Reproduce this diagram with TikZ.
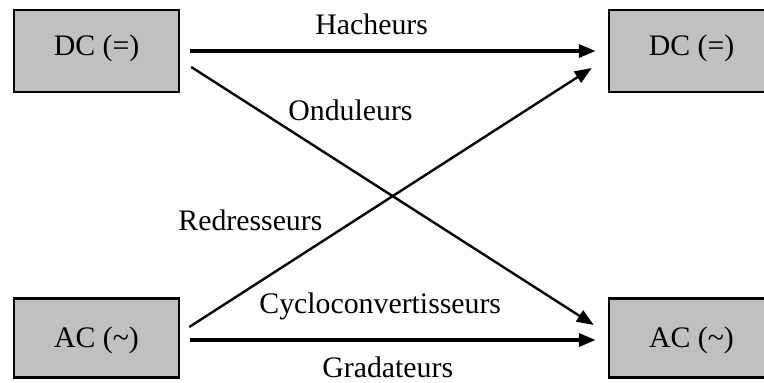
\documentclass[tikz,border=0pt]{standalone}
\usepackage{fontspec}
\setmainfont{Liberation Serif}
\usetikzlibrary{arrows.meta,positioning,calc}
\definecolor{boxgray}{RGB}{192,192,192}

\begin{document}
\begin{tikzpicture}[
  x=0.5pt,y=-0.5pt,
  font=\fontsize{14.9}{18}\selectfont,
  >={Triangle[length=8.5pt,width=6.5pt]},
  box/.style={draw=black,line width=1.25pt,fill=boxgray,inner sep=0pt,
              minimum width=82.5pt,minimum height=41pt,text height=10pt},
  dcbox/.style={box,text depth=6pt},
  acbox/.style={box,text depth=0.5pt,minimum height=39.5pt},
  conv/.style={->,line width=1.8pt,black},
  cross/.style={->,line width=1.2pt,black},
  lbl/.style={inner sep=0pt,anchor=base west},
]

% ---- source and target boxes --------------------------------------------
\useasboundingbox (0,0) rectangle (764,382);
\clip (0,0) rectangle (764,382);
\node[dcbox] (dcL) at (96.5,51)  {DC (=)};
\node[dcbox] (dcR) at (691.5,51) {DC (=)};
\node[acbox] (acL) at (96.5,338) {AC (\textasciitilde)};
\node[acbox] (acR) at (691.5,338) {AC (\textasciitilde)};

% ---- converters ------------------------------------------------------------
\draw[conv]  ($(dcL.east)+(10,0)$)   -- ($(dcR.west)+(-12,0)$);
\draw[cross] ($(dcL.east)+(11,16)$)  -- ($(acR.west)+(-14,-13)$);
\draw[cross] ($(acL.east)+(9,-11)$)  -- ($(dcR.west)+(-16,17)$);
\draw[conv]  ($(acL.east)+(10,2)$)   -- ($(acR.west)+(-12,2)$);

% ---- labels -----------------------------------------------------------------
\node[lbl] (hach)  at (315,34)  {Hacheurs};
\node[lbl] (ond)   at (288,120) {Onduleurs};
\node[lbl] (redr)  at (178,230) {Redresseurs};
\node[lbl] (cyclo) at (259,313) {Cycloconvertisseurs};
\node[lbl] (grad)  at (322,377) {Gradateurs};

\end{tikzpicture}
\end{document}
